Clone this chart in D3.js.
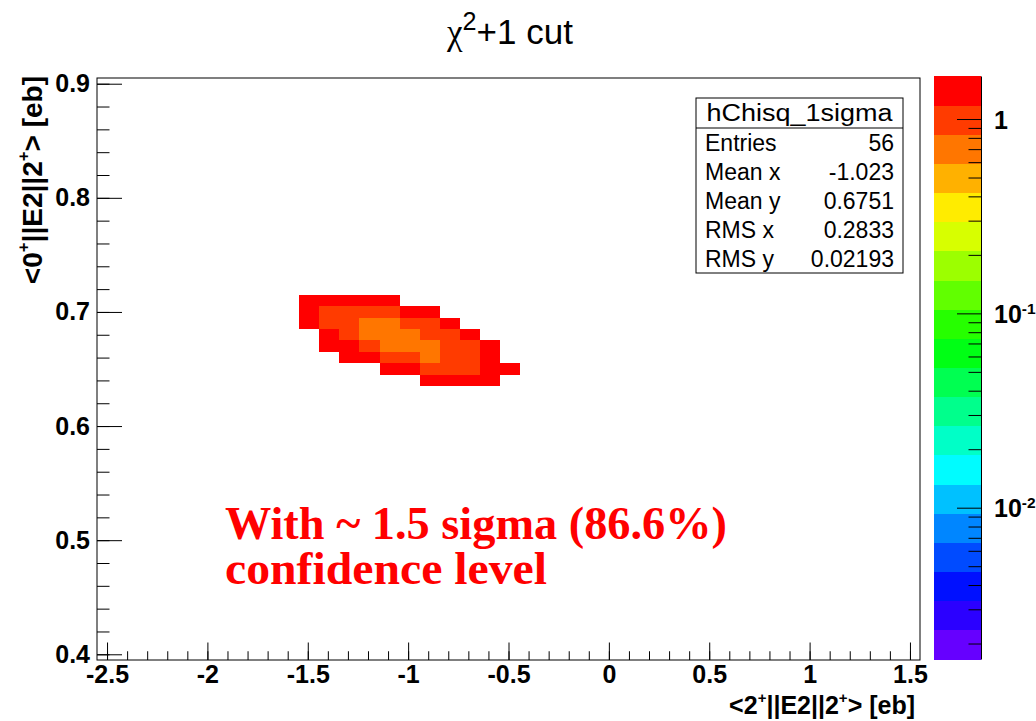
<!DOCTYPE html>
<html lang="en">
<head>
<meta charset="utf-8">
<title>chi2+1 cut</title>
<script src="https://cdn.jsdelivr.net/npm/d3@7"></script>
<style>
  body { margin: 0; background: #fff; }
  svg { display: block; background: #fff; }
  text { font-family: "Liberation Sans", Arial, Helvetica, sans-serif; fill: #000; }
  .bold text, text.bold { font-weight: bold; }
</style>
</head>
<body>
<svg id="chart" width="1036" height="721"></svg>
<script>
// bin centres of the filled part of the histogram
var xCenters = [-1.5, -1.4, -1.3, -1.2, -1.1, -1.0, -0.9, -0.8, -0.7, -0.6, -0.5];
var yCenters = [0.71, 0.70, 0.69, 0.68, 0.67, 0.66, 0.65, 0.64];
var binW = 0.1, binH = 0.01;

// bin contents, one row per yCenter (null = empty bin)
var chi2Rows = [
  [1.52, 1.45, 1.41, 1.44, 1.58, null, null, null, null, null, null],
  [1.35, 1.08, 1.02, 0.98, 1.05, 1.25, 1.62, null, null, null, null],
  [1.665, 1.10, 0.92, 0.75, 0.72, 0.86, 1.12, 1.38, null, null, null],
  [null, 1.30, 0.95, 0.70, 0.64, 0.68, 0.88, 1.06, 1.47, null, null],
  [null, 1.55, 1.22, 0.90, 0.69, 0.62, 0.74, 0.93, 1.14, 1.50, null],
  [null, null, 1.48, 1.24, 0.99, 0.85, 0.78, 0.87, 1.03, 1.34, null],
  [null, null, null, null, 1.44, 1.26, 0.96, 0.91, 1.09, 1.27, 1.60],
  [null, null, null, null, null, null, 1.56, 1.31, 1.29, 1.53, null]
];

var xDomain = [-2.55, 1.55];
var yDomain = [0.395, 0.905];
var zDomain = [0.001665, 1.665];
var nContours = 20;

var xMajor = [-2.5, -2, -1.5, -1, -0.5, 0, 0.5, 1, 1.5];
var xMajorLabels = ["-2.5", "-2", "-1.5", "-1", "-0.5", "0", "0.5", "1", "1.5"];
var yMajor = [0.4, 0.5, 0.6, 0.7, 0.8, 0.9];
var yMajorLabels = ["0.4", "0.5", "0.6", "0.7", "0.8", "0.9"];
var zMajor = [1, 0.1, 0.01];
var zMajorExp = ["", "-1", "-2"];

var statsTitle = "hChisq_1sigma";
var statsNames = ["Entries", "Mean x", "Mean y", "RMS x", "RMS y"];
var statsValues = ["56", "-1.023", "0.6751", "0.2833", "0.02193"];

var svg = d3.select("#chart");
var L = 97, R = 920, T = 78, B = 660;

var x = d3.scaleLinear().domain(xDomain).range([L, R]);
var y = d3.scaleLinear().domain(yDomain).range([B, T]);
var z = d3.scaleLog().domain(zDomain).range([659, 76]);
var zIndex = d3.scaleLog().domain(zDomain).range([0, nContours]);

// ROOT-like rainbow palette, violet -> red
var palette = d3.range(nContours).map(function(j) {
  return d3.hsl(264 * (1 - j / (nContours - 1)), 1, 0.5).formatHex();
});
function colorOf(v) {
  var k = Math.floor(zIndex(v));
  return palette[Math.max(0, Math.min(nContours - 1, k))];
}

// cells
var cells = [];
chi2Rows.forEach(function(row, i) {
  row.forEach(function(v, j) {
    if (v != null) cells.push({x: xCenters[j], y: yCenters[i], v: v});
  });
});

svg.append("g").selectAll("rect")
  .data(cells)
  .enter().append("rect")
  .attr("x", function(d) { return x(d.x - binW / 2) + 1.5; })
  .attr("y", function(d) { return y(d.y + binH / 2); })
  .attr("width", function(d) { return x(d.x + binW / 2) - x(d.x - binW / 2); })
  .attr("height", function(d) { return y(d.y - binH / 2) - y(d.y + binH / 2); })
  .attr("fill", function(d) { return colorOf(d.v); })
  .attr("shape-rendering", "crispEdges");

// frame
svg.append("rect")
  .attr("x", L).attr("y", T).attr("width", R - L).attr("height", B - T)
  .attr("fill", "none").attr("stroke", "#000").attr("stroke-width", 1);

var tickFont = 25;

// x axis
var xMinor = d3.range(-25, 16).map(function(k) { return k / 10; });
var gxMinor = svg.append("g").attr("transform", "translate(0," + B + ")")
  .call(d3.axisBottom(x).tickValues(xMinor).tickSize(-8.75).tickSizeOuter(0).tickFormat(""));
var gx = svg.append("g").attr("class", "bold").attr("transform", "translate(0," + B + ")")
  .call(d3.axisBottom(x).tickValues(xMajor).tickSize(-17.5).tickSizeOuter(0).tickPadding(5)
    .tickFormat(function(d, i) { return xMajorLabels[i]; }));
[gxMinor, gx].forEach(function(g) { g.select(".domain").remove(); });
gx.selectAll("text").attr("font-size", tickFont).attr("font-family", null);

// y axis
var yMinor = d3.range(20, 46).map(function(k) { return k / 50; });
var gyMinor = svg.append("g").attr("transform", "translate(" + L + ",0)")
  .call(d3.axisLeft(y).tickValues(yMinor).tickSize(-12.5).tickSizeOuter(0).tickFormat(""));
var gy = svg.append("g").attr("class", "bold").attr("transform", "translate(" + L + ",0)")
  .call(d3.axisLeft(y).tickValues(yMajor).tickSize(-25).tickSizeOuter(0).tickPadding(7)
    .tickFormat(function(d, i) { return yMajorLabels[i]; }));
[gyMinor, gy].forEach(function(g) { g.select(".domain").remove(); });
gy.selectAll("text").attr("font-size", tickFont).attr("font-family", null);

svg.selectAll(".tick line").attr("stroke", "#000");

// axis titles with superscripts
function e2Title(sel, a, b) {
  sel.append("tspan").text("<" + a);
  sel.append("tspan").attr("font-size", "60%").attr("dy", "-0.75em").text("+");
  sel.append("tspan").attr("dy", "0.45em").text("||E2||" + b);
  sel.append("tspan").attr("font-size", "60%").attr("dy", "-0.75em").text("+");
  sel.append("tspan").attr("dy", "0.45em").text("> [eb]");
}
var xt = svg.append("text").attr("class", "bold")
  .attr("x", 915).attr("y", 714).attr("text-anchor", "end")
  .attr("font-size", 25);
e2Title(xt, "2", "2");

var yt = svg.append("text").attr("class", "bold")
  .attr("transform", "translate(42," + 76 + ") rotate(-90)")
  .attr("text-anchor", "end").attr("font-size", 28);
e2Title(yt, "0", "2");

// title
var title = svg.append("text").attr("x", 510).attr("y", 44)
  .attr("text-anchor", "middle").attr("font-size", 35);
title.append("tspan").attr("font-family", "'Liberation Serif', 'DejaVu Serif', serif").text("\u03c7");
title.append("tspan").attr("font-size", "72%").attr("dy", "-0.55em").text("2");
title.append("tspan").attr("dy", "0.4em").text("+1 cut");

// colour bar
var zx0 = 934, zx1 = 981;
var bandH = (z.range()[0] - z.range()[1]) / nContours;
svg.append("g").selectAll("rect")
  .data(palette)
  .enter().append("rect")
  .attr("x", zx0).attr("width", zx1 - zx0)
  .attr("y", function(d, j) { return z.range()[0] - (j + 1) * bandH; })
  .attr("height", bandH + 0.5)
  .attr("fill", function(d) { return d; })
  .attr("shape-rendering", "crispEdges");

var zMinor = [];
[0.001, 0.01, 0.1, 1].forEach(function(dec) {
  for (var m = 2; m <= 9; m++) {
    var v = m * dec;
    if (v >= zDomain[0] && v <= zDomain[1]) zMinor.push(v);
  }
});
var gzMinor = svg.append("g").attr("transform", "translate(" + zx1 + ",0)")
  .call(d3.axisRight(z).tickValues(zMinor).tickSize(-12.5).tickSizeOuter(0).tickFormat(""));
var gz = svg.append("g").attr("class", "bold").attr("transform", "translate(" + zx1 + ",0)")
  .call(d3.axisRight(z).tickValues(zMajor).tickSize(-24).tickSizeOuter(0).tickPadding(12)
    .tickFormat(""));
gzMinor.select(".domain").attr("stroke", "#000");
gz.select(".domain").remove();
gz.selectAll(".tick").each(function(d, i) {
  var t = d3.select(this).append("text").attr("x", 13).attr("dy", "0.36em")
    .attr("font-size", tickFont).attr("text-anchor", "start");
  if (zMajorExp[i] === "") {
    t.text("1");
  } else {
    t.append("tspan").text("10");
    t.append("tspan").attr("font-size", "62%").attr("dy", "-0.6em").text(zMajorExp[i]);
  }
});
svg.selectAll(".tick line").attr("stroke", "#000");

// stats box
var sb = {x0: 696, y0: 98, x1: 903, y1: 273, head: 128};
var statsFont = 23;
var gs = svg.append("g");
gs.append("rect").attr("x", sb.x0).attr("y", sb.y0)
  .attr("width", sb.x1 - sb.x0).attr("height", sb.y1 - sb.y0)
  .attr("fill", "#fff").attr("stroke", "#000");
gs.append("line").attr("x1", sb.x0).attr("x2", sb.x1)
  .attr("y1", sb.head).attr("y2", sb.head).attr("stroke", "#000");
gs.append("text").attr("x", (sb.x0 + sb.x1) / 2).attr("y", (sb.y0 + sb.head) / 2)
  .attr("dy", "0.36em").attr("text-anchor", "middle").attr("font-size", statsFont)
  .attr("textLength", 186).attr("lengthAdjust", "spacingAndGlyphs")
  .text(statsTitle);
var rowH = (sb.y1 - sb.head) / statsNames.length;
statsNames.forEach(function(name, i) {
  var cy = sb.head + rowH * (i + 0.5);
  gs.append("text").attr("x", sb.x0 + 9).attr("y", cy).attr("dy", "0.36em")
    .attr("font-size", statsFont).text(name);
  gs.append("text").attr("x", sb.x1 - 9).attr("y", cy).attr("dy", "0.36em")
    .attr("text-anchor", "end").attr("font-size", statsFont).text(statsValues[i]);
});

// annotation
var note = svg.append("text")
  .attr("font-weight", "bold").attr("font-size", 46)
  .style("font-family", "'Liberation Serif', 'Times New Roman', serif")
  .style("fill", "#ff0000");
note.append("tspan").attr("x", 225).attr("y", 539).attr("textLength", 502)
  .attr("lengthAdjust", "spacingAndGlyphs").text("With ~ 1.5 sigma (86.6%)");
note.append("tspan").attr("x", 225).attr("y", 584).attr("textLength", 322)
  .attr("lengthAdjust", "spacingAndGlyphs").text("confidence level");
</script>
</body>
</html>
